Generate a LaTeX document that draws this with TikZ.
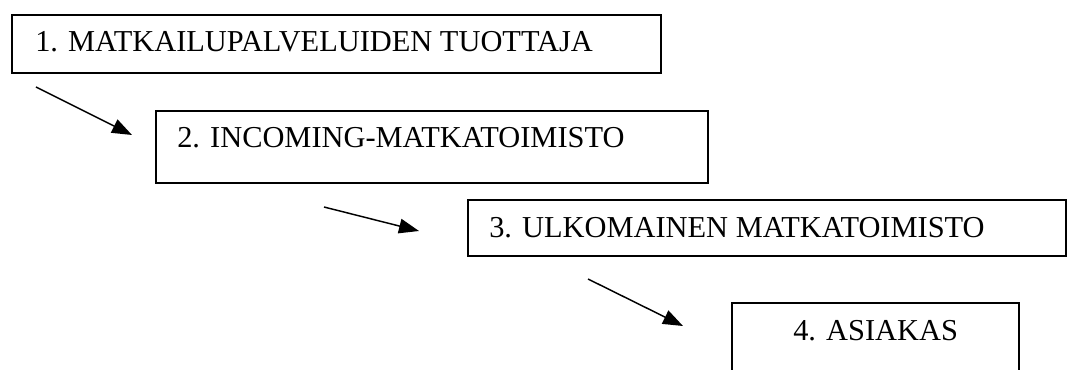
\documentclass[tikz,border=0pt]{standalone}
\usepackage{fontspec}
\setmainfont{Liberation Serif}
\usetikzlibrary{arrows.meta,fit}
\begin{document}
\begin{tikzpicture}[x=0.75pt,y=-0.75pt,
  box/.style={draw, rectangle, line width=1.5pt, inner sep=0pt},
  boxtext/.style={anchor=base west, inner sep=0pt, font=\fontsize{22.8}{27}\selectfont},
  flow/.style={line width=1.1pt, -{Triangle[length=15pt,width=11pt]}}]
\useasboundingbox (0,0) rectangle (1068,370);
\clip (0,0) rectangle (1068,370);

% the four stages of the distribution chain
\node[box, fit={(12,15) (661,73)}] (b1) {};
\node[box, fit={(156,111) (708,183)}] (b2) {};
\node[box, fit={(468,200) (1066,256)}] (b3) {};
\node[box, fit={(732,303) (1019,390)}] (b4) {};

\node[boxtext] (t1) at (35,52) {1. MATKAILUPALVELUIDEN TUOTTAJA};
\node[boxtext] (t2) at (177,148) {2. INCOMING-MATKATOIMISTO};
\node[boxtext] (t3) at (489,238) {3. ULKOMAINEN MATKATOIMISTO};
\node[boxtext] (t4) at (793,341) {4. ASIAKAS};

% arrows between the stages
\coordinate (a1s) at (36,87);
\coordinate (a1e) at (132,135);
\coordinate (a2s) at (324,207);
\coordinate (a2e) at (419,231);
\coordinate (a3s) at (588,279);
\coordinate (a3e) at (683,326);
\draw[flow] (a1s) -- (a1e);
\draw[flow] (a2s) -- (a2e);
\draw[flow] (a3s) -- (a3e);
\end{tikzpicture}
\end{document}
